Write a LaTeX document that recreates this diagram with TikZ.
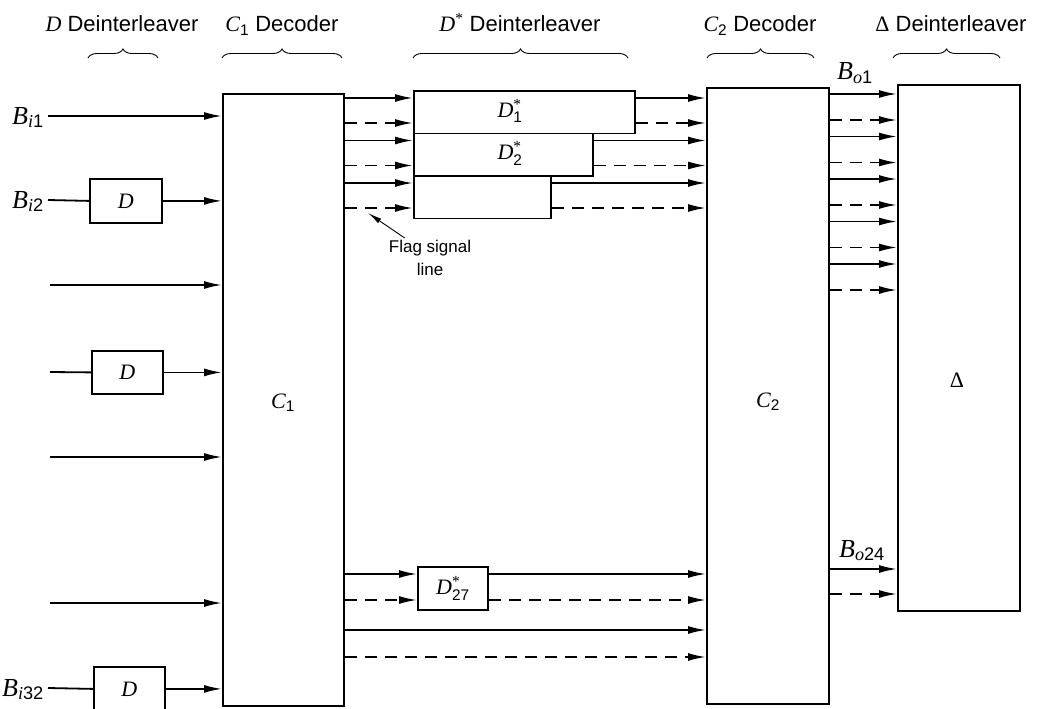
\RequirePackage{fix-cm}
\documentclass[tikz,border=0pt]{standalone}
\usepackage{amsmath}
\usepackage{fontspec}
\setmainfont{Liberation Sans}
\newfontfamily\tms{Liberation Serif}
\newcommand\tv[1]{\text{\tms\itshape #1}}
\newcommand\tst{\text{\tms *}}
\usetikzlibrary{arrows.meta,decorations.pathreplacing,calc}
\begin{document}
\begin{tikzpicture}[x=1pt,y=-1pt,
  font=\fontsize{22}{26}\selectfont,
  box/.style={draw,line width=1.8pt,inner sep=0pt,anchor=north west},
  arr/.style={line width=1.8pt,-{Latex[length=18pt,width=8pt]}},
  darr/.style={arr,dash pattern=on 12pt off 8pt},
  ln/.style={line width=1.8pt},
  brc/.style={decorate,decoration={brace,amplitude=9pt},line width=0.9pt},
  hdr/.style={anchor=base,inner sep=0pt},
  blab/.style={font=\fontsize{26}{30}\selectfont,inner sep=0pt},
  farr/.style={line width=0.9pt,-{Latex[length=14pt,width=5.5pt]}},
]
\useasboundingbox (0,0) rectangle (1041,709);

% headers
\node[hdr] (h1) at (122,32) {$\tv{D}$ Deinterleaver};
\node[hdr] (h2) at (282,32) {$\tv{C}_{\text{1}}$ Decoder};
\node[hdr] (h3) at (520,32) {$\tv{D}^{\tst}$ Deinterleaver};
\node[hdr] (h4) at (760,32) {$\tv{C}_{\text{2}}$ Decoder};
\node[hdr] (h5) at (951,32) {{\tms Δ} Deinterleaver};
\draw[brc] (88,58) -- (158,58);
\draw[brc] (222,58) -- (342,58);
\draw[brc] (413,58) -- (628,58);
\draw[brc] (707,58) -- (814,58);
\draw[brc] (893,58) -- (1000,58);

% main boxes
\node[box,minimum width=121pt,minimum height=612pt] (C1) at (222,93) {};
\node (C1l) at (283,403) {$\tv{C}_{\text{1}}$};
\node[box,minimum width=122pt,minimum height=616pt] (C2) at (706,87) {};
\node (C2l) at (768,402) {$\tv{C}_{\text{2}}$};
\node[box,minimum width=122pt,minimum height=526pt] (DL) at (897,84) {};
\node (DLl) at (957,380) {\tms Δ};

% D* boxes
\node[box,minimum width=221pt,minimum height=42.5pt] (D1) at (413,90) {};
\node (D1l) at (510,111) {$\tv{D}^{\tst}_{\text{1}}$};
\node[box,minimum width=179pt,minimum height=42.5pt] (D2) at (413,132.5) {};
\node (D2l) at (510,153) {$\tv{D}^{\tst}_{\text{2}}$};
\node[box,minimum width=137pt,minimum height=42.5pt] (D3) at (413,175) {};
\node[box,minimum width=70pt,minimum height=43pt] (D27) at (417,566) {$\tv{D}^{\tst}_{\text{27}}$};

% left D boxes
\node[box,minimum width=72pt,minimum height=44pt] (Da) at (89,178) {$\tv{D}$};
\node[box,minimum width=71pt,minimum height=43pt] (Db) at (91,350) {$\tv{D}$};
\node[box,minimum width=71pt,minimum height=44pt] (Dc) at (93,666) {$\tv{D}$};

% left inputs
\node[blab,anchor=base east] (Bi1) at (44,124) {$\tv{B}_{\tv{i}\text{1}}$};
\node[blab,anchor=base east] (Bi2) at (44,208) {$\tv{B}_{\tv{i}\text{2}}$};
\node[blab,anchor=base east] (Bi32) at (44,696) {$\tv{B}_{\tv{i}\text{32}}$};
\coordinate (i1) at (48,116);
\coordinate (i2) at (48,200);
\coordinate (i3) at (50,285);
\coordinate (i4) at (50,372);
\coordinate (i5) at (50,457);
\coordinate (i6) at (50,603);
\coordinate (i7) at (48,688);
\draw[arr] (i1) -- (C1.west |- i1);
\draw[ln] (i2) -- (Da.west);
\draw[arr] (Da.east) -- (C1.west |- Da.east);
\draw[arr] (i3) -- (C1.west |- i3);
\draw[ln] (i4) -- (Db.west);
\draw[arr] (Db.east) -- (C1.west |- Db.east);
\draw[arr] (i5) -- (C1.west |- i5);
\draw[arr] (i6) -- (C1.west |- i6);
\draw[ln] (i7) -- (Dc.west);
\draw[arr] (Dc.east) -- (C1.west |- Dc.east);

% C1 -> D* -> C2
\foreach \b/\t in {D1/90,D2/132.5,D3/175} {
  \draw[arr] (C1.east |- 0,\t+8) -- (\b.west |- 0,\t+8);
  \draw[darr] (C1.east |- 0,\t+33) -- (\b.west |- 0,\t+33);
  \draw[arr] (\b.east |- 0,\t+8) -- (C2.west |- 0,\t+8);
  \draw[darr] (\b.east |- 0,\t+33) -- (C2.west |- 0,\t+33);
}
\draw[arr] (C1.east |- 0,574) -- (D27.west |- 0,574);
\draw[darr] (C1.east |- 0,600) -- (D27.west |- 0,600);
\draw[arr] (D27.east |- 0,574) -- (C2.west |- 0,574);
\draw[darr] (D27.east |- 0,600) -- (C2.west |- 0,600);
\draw[arr] (C1.east |- 0,630) -- (C2.west |- 0,630);
\draw[darr] (C1.east |- 0,657) -- (C2.west |- 0,657);

% C2 -> Delta
\foreach \k in {0,...,4} {
  \draw[arr] (C2.east |- 0,94+42.5*\k) -- (DL.west |- 0,94+42.5*\k);
  \draw[darr] (C2.east |- 0,120+42.5*\k) -- (DL.west |- 0,120+42.5*\k);
}
\draw[arr] (C2.east |- 0,569) -- (DL.west |- 0,569);
\draw[darr] (C2.east |- 0,594) -- (DL.west |- 0,594);
\node[blab,anchor=base] (Bo1) at (855,80) {$\tv{B}_{\tv{o}\text{1}}$};
\node[blab,anchor=base] (Bo24) at (862,557) {$\tv{B}_{\tv{o}\text{24}}$};

% flag signal
\node[align=center,font=\fontsize{17}{23}\selectfont,inner sep=0pt,anchor=north] (flag) at (430,240) {Flag signal\\line};
\coordinate (fl) at (368,213);
\draw[farr] ($(flag.north west)+(16,-2)$) -- (fl);
\end{tikzpicture}
\end{document}
